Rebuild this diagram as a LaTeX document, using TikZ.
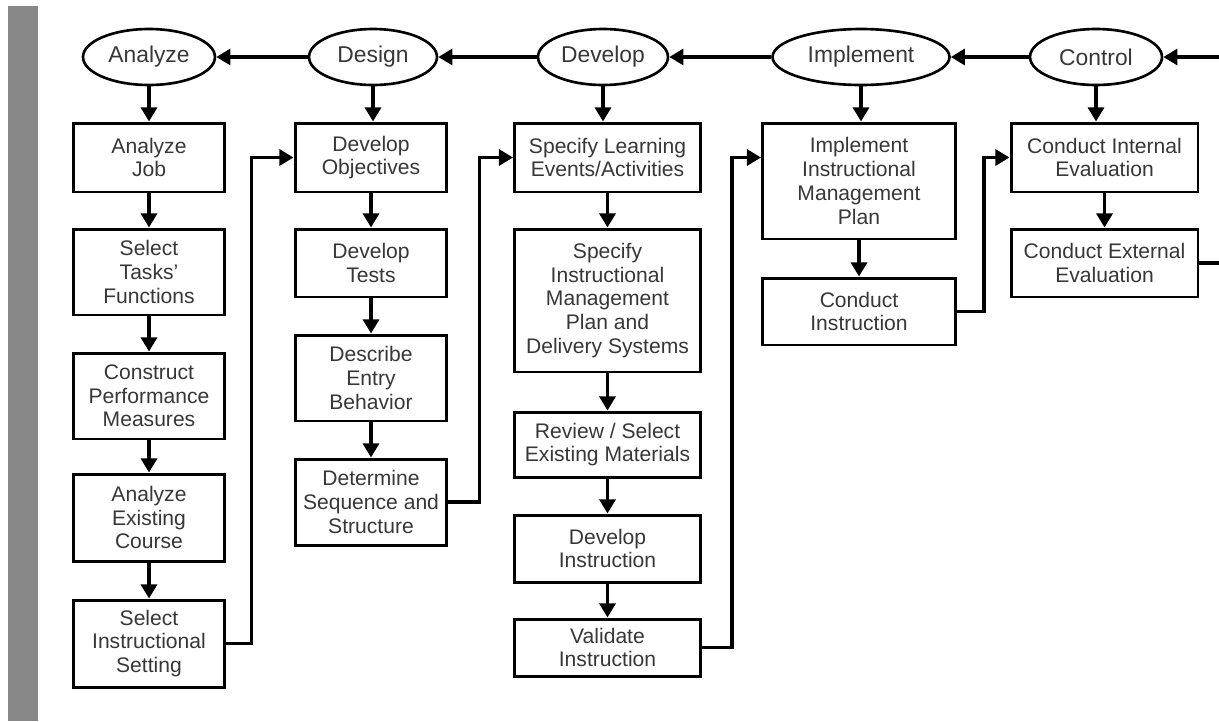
\documentclass[tikz,border=0pt]{standalone}
\usepackage{fontspec}
\setmainfont{Liberation Sans}
\usepackage{tikz}
\usetikzlibrary{arrows.meta,shapes}
\usetikzlibrary{calc}
\definecolor{bargray}{RGB}{136,136,136}
\definecolor{txtgray}{RGB}{55,55,55}
\tikzset{
    phase/.style={draw=black, ellipse, line width=1.5pt, minimum height=1.12cm,
        inner sep=0pt, text=txtgray, font=\fontsize{13}{14}\selectfont},
    task/.style={draw=black, rectangle, line width=1.7pt, align=center,
        inner sep=2pt, text=txtgray, font=\fontsize{12}{13.5}\selectfont},
    flow/.style={draw=black, line width=2pt, -{Triangle[length=8pt,width=9pt]}},
    colA/.style={task, minimum width=3.04cm},
    colV/.style={task, minimum width=3.72cm},
    colI/.style={task, minimum width=3.86cm},
    colC/.style={task, minimum width=3.74cm},
}
\begin{document}
\begin{tikzpicture}[x=0.02cm, y=-0.02cm]
		\useasboundingbox (0,0) rectangle (1219,721);
		\clip (0,0) rectangle (1219,721);
		\fill[bargray] (8,6) rectangle (38,721);
		% phases
		\node[phase, minimum width=2.64cm] (analyze) at (149,57) {Analyze};
		\node[phase, minimum width=2.56cm] (design) at (373,57) {Design};
		\node[phase, minimum width=2.6cm] (develop) at (603,57) {Develop};
		\node[phase, minimum width=3.54cm] (implement) at (861,57) {Implement};
		\node[phase, minimum width=2.64cm] (control) at (1096,57) {Control};
		\draw[flow] (design) -- (analyze);
		\draw[flow] (develop) -- (design);
		\draw[flow] (implement) -- (develop);
		\draw[flow] (control) -- (implement);
		% analyze column
		\node[colA, minimum height=1.38cm] (a1) at (149,157.5) {Analyze\\Job};
		\node[colA, minimum height=1.72cm] (a2) at (149,272) {Select\\Tasks'\\Functions};
		\node[colA, minimum height=1.72cm] (a3) at (149,396) {Construct\\Performance\\Measures};
		\node[colA, minimum height=1.74cm] (a4) at (149,517.5) {Analyze\\Existing\\Course};
		\node[colA, minimum height=1.74cm] (a5) at (149,643.5) {Select\\Instructional\\Setting};
		% design column
		\node[colA, minimum height=1.38cm] (d1) at (371,157.5) {Develop\\Objectives};
		\node[colA, minimum height=1.36cm] (d2) at (371,263) {Develop\\Tests};
		\node[colA, minimum height=1.72cm] (d3) at (371,378) {Describe\\Entry\\Behavior};
		\node[colA, minimum height=1.72cm] (d4) at (371,502) {Determine\\Sequence and\\Structure};
		% develop column
		\node[colV, minimum height=1.38cm] (v1) at (607.5,157.5) {Specify Learning\\Events/Activities};
		\node[colV, minimum height=2.86cm] (v2) at (607.5,300.5) {Specify\\Instructional\\Management\\Plan and\\Delivery Systems};
		\node[colV, minimum height=1.3cm] (v3) at (607.5,444.5) {Review / Select\\Existing Materials};
		\node[colV, minimum height=1.34cm] (v4) at (607.5,548.5) {Develop\\Instruction};
		\node[colV, minimum height=1.14cm] (v5) at (607.5,647.5) {Validate\\Instruction};
		% implement column
		\node[colI, minimum height=2.32cm] (i1) at (859,181) {Implement\\Instructional\\Management\\Plan};
		\node[colI, minimum height=1.34cm] (i2) at (859,311.5) {Conduct\\Instruction};
		% control column
		\node[colC, minimum height=1.38cm] (c1) at (1104.5,157.5) {Conduct Internal\\Evaluation};
		\node[colC, minimum height=1.36cm] (c2) at (1104.5,263) {Conduct External\\Evaluation};
		% down arrows
		\draw[flow] (analyze) -- (analyze |- a1.north);
		\draw[flow] (design) -- (design |- d1.north);
		\draw[flow] (develop) -- (develop |- v1.north);
		\draw[flow] (implement) -- (implement |- i1.north);
		\draw[flow] (control) -- (control |- c1.north);
		\draw[flow] (a1) -- (a2);
		\draw[flow] (a2) -- (a3);
		\draw[flow] (a3) -- (a4);
		\draw[flow] (a4) -- (a5);
		\draw[flow] (d1) -- (d2);
		\draw[flow] (d2) -- (d3);
		\draw[flow] (d3) -- (d4);
		\draw[flow] (v1) -- (v2);
		\draw[flow] (v2) -- (v3);
		\draw[flow] (v3) -- (v4);
		\draw[flow] (v4) -- (v5);
		\draw[flow] (i1) -- (i2);
		\draw[flow] (c1) -- (c2);
		% links to the next phase
		\draw[flow] (a5.east) -- ++(25,0) |- (d1.west);
		\draw[flow] (d4.east) -- ++(31,0) |- (v1.west);
		\draw[flow] (v5.east) -- ++(30,0) |- (i1.west |- v1.west);
		\draw[flow] (i2.east) -- ++(27,0) |- (c1.west);
		\draw[flow] (c2.east) -- ++(60,0) |- (control.east);
	 \end{tikzpicture}
\end{document}
